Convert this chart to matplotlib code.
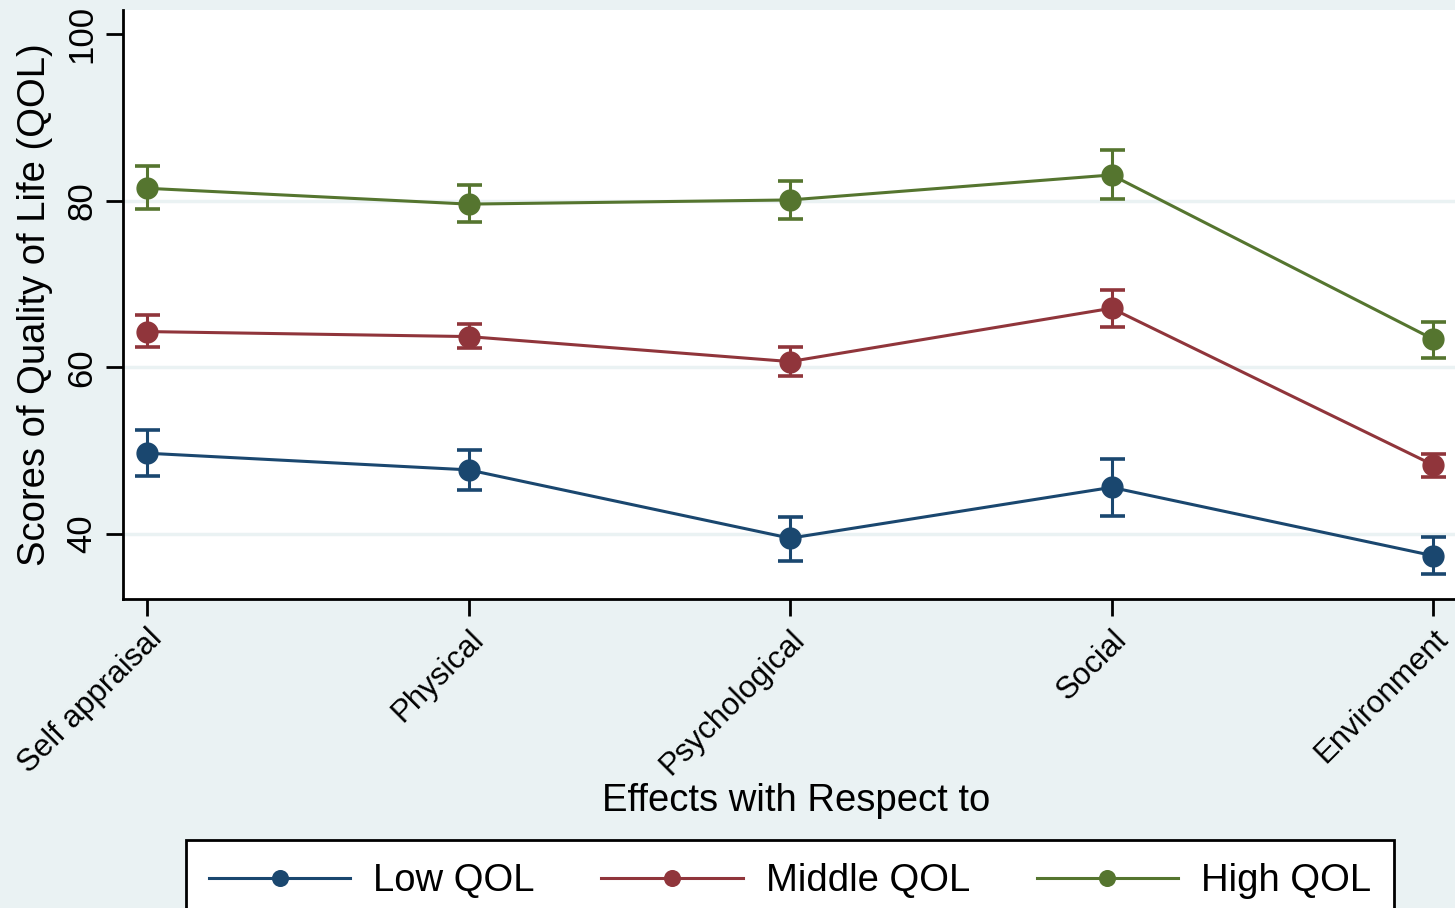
import matplotlib
matplotlib.use("Agg")
import matplotlib.pyplot as plt
import numpy as np

plt.rcParams['font.family'] = ['Liberation Sans', 'DejaVu Sans']

categories = ["Self appraisal", "Physical", "Psychological", "Social", "Environment"]
series_names = ["Low QOL", "Middle QOL", "High QOL"]
low_mean = [49.7, 47.7, 39.5, 45.6, 37.4]
low_lo = [47.0, 45.3, 36.8, 42.2, 35.2]
low_hi = [52.5, 50.1, 42.0, 49.0, 39.6]
mid_mean = [64.3, 63.7, 60.7, 67.1, 48.3]
mid_lo = [62.5, 62.3, 59.0, 64.9, 46.8]
mid_hi = [66.3, 65.2, 62.4, 69.3, 49.6]
high_mean = [81.5, 79.6, 80.1, 83.1, 63.4]
high_lo = [79.0, 77.4, 77.8, 80.2, 61.1]
high_hi = [84.2, 81.9, 82.4, 86.1, 65.5]
yticks = [40, 60, 80, 100]
colors = ["#1A476F", "#90353B", "#55752F"]

W, H = 1455, 908
fig = plt.figure(figsize=(W / 100, H / 100), dpi=100)
fig.patch.set_facecolor("#EAF2F3")
ax = fig.add_axes([123 / W, 1 - 599 / H, (1470 - 123) / W, (599 - 10) / H])
ax.set_facecolor("white")

x = np.arange(len(categories))
for mean, lo, hi, c, name in [(low_mean, low_lo, low_hi, colors[0], series_names[0]),
                              (mid_mean, mid_lo, mid_hi, colors[1], series_names[1]),
                              (high_mean, high_lo, high_hi, colors[2], series_names[2])]:
    mean = np.array(mean); lo = np.array(lo); hi = np.array(hi)
    ax.errorbar(x, mean, yerr=[mean - lo, hi - mean], fmt='none', ecolor=c,
                elinewidth=2.2, capsize=9, capthick=2.6, zorder=3)
    ax.plot(x, mean, '-o', color=c, lw=2.2, ms=15, label=name, zorder=4)

ax.set_xlim(-0.075, 4.115)
ax.set_ylim(32.2, 102.9)
ax.set_yticks(yticks)
ax.set_yticklabels([str(v) for v in yticks], rotation=90, va='center', fontsize=25)
for v in [40, 60, 80]:
    ax.axhline(v, color="#EAF2F3", lw=2.5, zorder=1)
ax.set_xticks(x)
ax.set_xticklabels(categories, rotation=45, ha='right', rotation_mode='anchor', fontsize=22.5)
ax.tick_params(axis='both', length=12, width=2, color='black')
ax.tick_params(axis='x', pad=6)
ax.tick_params(axis='y', pad=6)
for s in ['top', 'right']:
    ax.spines[s].set_visible(False)
for s in ['left', 'bottom']:
    ax.spines[s].set_linewidth(2)

ax.set_xlabel("Effects with Respect to", fontsize=27.5, labelpad=2)
fig.text(35 / W, 1 - 305 / H, "Scores of Quality of Life (QOL)", rotation=90,
         ha='center', va='center', fontsize=27.5)

handles, labels = ax.get_legend_handles_labels()
leg = fig.legend(handles, labels, loc='upper center', ncol=3,
                 bbox_to_anchor=(790 / W, 1 - 840 / H),
                 fontsize=27.5, frameon=True, fancybox=False,
                 edgecolor='black', handlelength=3.7, handletextpad=0.6,
                 columnspacing=1.75, borderpad=0.6, borderaxespad=0,
                 markerscale=0.75)
leg.get_frame().set_linewidth(2)
leg.get_frame().set_facecolor('white')
leg.get_frame().set_alpha(1)

fig.savefig("out.png", dpi=100, facecolor=fig.get_facecolor())
